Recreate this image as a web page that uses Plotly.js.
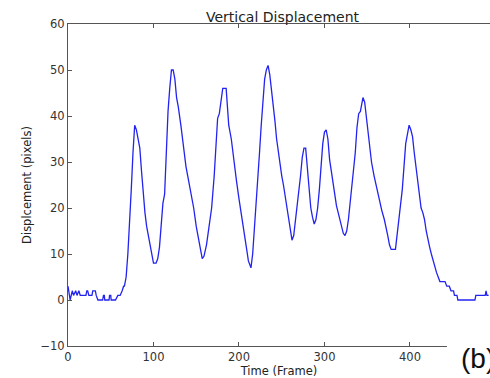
<!DOCTYPE html>
<html>
<head>
<meta charset="utf-8">
<script src="https://cdn.plot.ly/plotly-3.0.1.min.js"></script>
<style>
html,body{margin:0;padding:0;background:#fff;overflow:hidden;}
#chart{width:490px;height:378px;}
</style>
</head>
<body>
<div id="chart"></div>
<script>
// Frame numbers (x) and vertical displacement in pixels (y)
const frames = [0,2.5,5,6.5,9,10.5,12.7,14.3,21,22,23,24.4,28,29,32,33,35,40.5,41.5,42.5,43,48,48.6,50,50.5,55.6,58.3,61,63.4,65,
  66,68,70,72,74,76,78,80,82,84,86,88,90,92,94,96,98,100,103,105,107,109,111,113,115,117,119,121,123,125,127,129,132,135,138,141,144,147,150,153,155,157,159,162,165,168,171,173,175,177,179,181,185,186,188,191,194,197,200,203,206,209,211,213,214,216,218,220,222,224,226,228,230,232,234,236,238,240,242,244,246,248,250,252,254,256,258,260,262,264,266,268,270,272,274,276,278,280,282,284,286,288,290,292,294,296,298,300,302,304,306,308,310,312,314,316,318,320,322,324,326,328,330,332,334,336,338,340,342,344,345,347,349,351,353,355,358,361,364,367,370,372,374,376,378,383,385,387,389,391,393,395,397,399,401,403,405,407,409,411,413,415,417,419,421,423,425,427,429,431,433,435,441,443,446,448,451,452,455,456,476,477,488,489,490,492];
const displacement = [3,0,2,1,2,1,2,1,1,2,2,1,1,2,2,1,0,0,1,1,0,0,1,1,0,0,1,1,2,3,
  3,5,10,16,24,32,38,37,35,33,28,23,19,16,14,12,10,8,8,9,11.5,17,21,23,32,41,46,50,50,48,44,42,38,33,29,26,23,20,16,13,11,9,9.5,12,16,20,27,33,39.5,40.5,44,46,46,43,38,35,30,26,22,18,14,11,8.5,7.5,7,10,15,20,26,32,38,44,48,50,51,49,46,42,39,35,32,29,27,25,22.5,20,18,15.5,13,14,17,20,23,27,31,33,33,29,24,20,18,16.5,17.5,20,24,29,34,36.5,37,35,30.5,28,25,23,20.5,19,17,16,14.5,14,15,17.5,21,24,27,32,37.5,40.5,41,43,44,43,40,36,33,30,27,24.5,21.5,19.5,17.5,16,14,12,11,11,14,17,20,24,29,34,36,38,37,35.5,32,29,26,22.5,20,19,17.5,15,13,11.5,10,8.5,7,6,5,4,4,3,3,2,2,1,1,0,0,1,1,2,1,1];
const xTicks = [0,100,200,300,400];
const yTicks = [-10,0,10,20,30,40,50,60];

const axisFont = {family:'DejaVu Sans', size:11.5, color:'#333'};

const trace = {
  x: frames, y: displacement, type:'scatter', mode:'lines',
  line:{color:'rgb(35,35,240)', width:1.3}, hoverinfo:'skip'
};

const layout = {
  width:490, height:378,
  margin:{l:68, r:0, t:24, b:32, pad:0},
  paper_bgcolor:'#fff', plot_bgcolor:'#fff',
  showlegend:false,
  title:{text:'Vertical Displacement', font:{family:'DejaVu Sans', size:14, color:'#222'},
         x:0.5765, xref:'container', xanchor:'center', y:0.955, yref:'container', yanchor:'middle'},
  xaxis:{range:[0,493.6], tickvals:xTicks, ticktext:xTicks.map(String), ticks:'inside', ticklen:4,
         tickcolor:'#555', showline:true, linecolor:'#555', linewidth:1, mirror:'ticks',
         showgrid:false, zeroline:false, tickfont:axisFont,
         title:{text:'Time (Frame)', font:{family:'DejaVu Sans', size:11.5, color:'#222'}, standoff:4}},
  yaxis:{range:[-10,60], tickvals:yTicks, ticks:'inside', ticklen:4,
         tickcolor:'#555', showline:true, linecolor:'#555', linewidth:1, mirror:false,
         showgrid:false, zeroline:false, tickfont:axisFont,
         title:{text:'Displcement (pixels)', font:{family:'DejaVu Sans', size:11.5, color:'#222'}, standoff:6}},
  shapes:[{type:'rect', xref:'paper', yref:'paper', x0:0.898, x1:1.02, y0:-0.12, y1:0.075,
           fillcolor:'#fff', line:{width:0}, layer:'above'}],
  annotations:[{text:'(b)', xref:'paper', yref:'paper', x:0.926, y:-0.04, xanchor:'left', yanchor:'middle',
                showarrow:false, font:{family:'Liberation Sans', size:28, color:'#111'}}]
};

Plotly.newPlot('chart', [trace], layout, {staticPlot:true, displayModeBar:false});
</script>
</body>
</html>
